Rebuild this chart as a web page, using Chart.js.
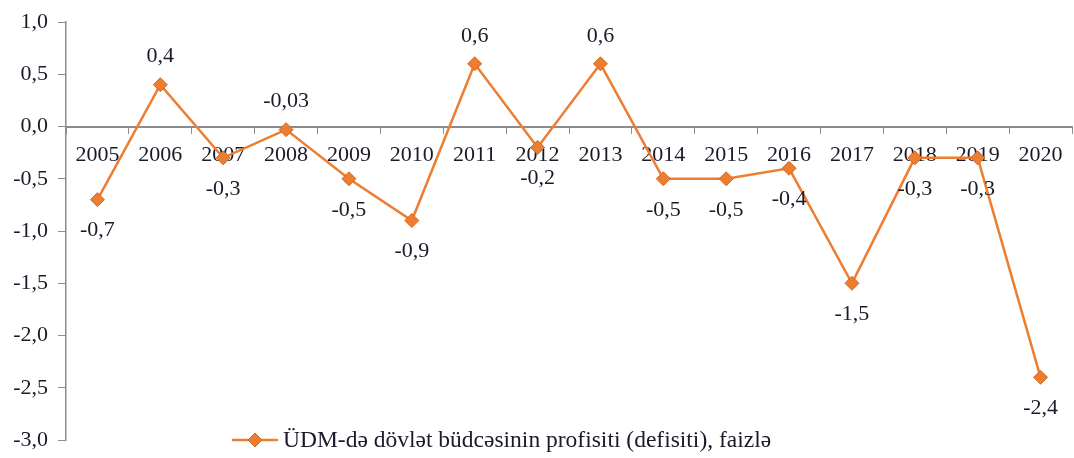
<!DOCTYPE html>
<html>
<head>
<meta charset="utf-8">
<script src="https://cdn.jsdelivr.net/npm/chart.js@4.4.0/dist/chart.umd.min.js"></script>
<style>
  html, body { margin: 0; padding: 0; background: #fff; }
  #wrap { width: 1074px; height: 458px; position: relative; }
</style>
</head>
<body>
<div id="wrap"><canvas id="budget-chart"></canvas></div>
<script>
// Data
const years = ['2005', '2006', '2007', '2008', '2009', '2010', '2011', '2012',
  '2013', '2014', '2015', '2016', '2017', '2018', '2019', '2020'];
const balance = [-0.7, 0.4, -0.3, -0.03, -0.5, -0.9, 0.6, -0.2,
  0.6, -0.5, -0.5, -0.4, -1.5, -0.3, -0.3, -2.4];
const seriesLabel = 'ÜDM-də dövlət büdcəsinin profisiti (defisiti), faizlə';
const yMin = -3;
const yMax = 1;
const yStep = 0.5;

const orange = '#ED7D31';
const orangeDark = '#D4681F';
const axisGray = '#8C8C8C';
const textColor = '#1A1A28';
const serif = "'Liberation Serif', 'Times New Roman', serif";
const fontSize = 22;

const fmt = (v, digits) => v.toFixed(digits).replace('.', ',');

// Value labels next to each point
const valueLabels = {
  id: 'valueLabels',
  afterDatasetsDraw(chart) {
    const { ctx } = chart;
    const meta = chart.getDatasetMeta(0);
    ctx.save();
    ctx.font = fontSize + 'px ' + serif;
    ctx.fillStyle = textColor;
    ctx.textAlign = 'center';
    ctx.textBaseline = 'middle';
    meta.data.forEach((pt, i) => {
      const v = balance[i];
      const digits = Math.abs(v * 10 - Math.round(v * 10)) > 1e-6 ? 2 : 1;
      const above = v > -0.1;
      ctx.fillText(fmt(v, digits), pt.x, above ? pt.y - 28 : pt.y + 31);
    });
    ctx.restore();
  },
};

// Legend drawn on the canvas, at the bottom
const bottomLegend = {
  id: 'bottomLegend',
  afterDraw(chart) {
    const { ctx } = chart;
    const y = 440;
    ctx.save();
    ctx.strokeStyle = orange;
    ctx.lineWidth = 2.5;
    ctx.beginPath();
    ctx.moveTo(232, y);
    ctx.lineTo(278, y);
    ctx.stroke();
    ctx.fillStyle = orange;
    ctx.strokeStyle = orangeDark;
    ctx.lineWidth = 1;
    ctx.beginPath();
    ctx.moveTo(255, y - 7);
    ctx.lineTo(262, y);
    ctx.lineTo(255, y + 7);
    ctx.lineTo(248, y);
    ctx.closePath();
    ctx.fill();
    ctx.stroke();
    ctx.font = '23.5px ' + serif;
    ctx.fillStyle = textColor;
    ctx.textAlign = 'left';
    ctx.textBaseline = 'middle';
    ctx.fillText(seriesLabel, 283, y + 1);
    ctx.restore();
  },
};

const ctx = document.getElementById('budget-chart');
// eslint-disable-next-line no-unused-vars
const chart = new Chart(ctx, {
  type: 'line',
  data: {
    labels: years,
    datasets: [{
      label: seriesLabel,
      data: balance,
      borderColor: orange,
      backgroundColor: orange,
      borderWidth: 2.5,
      pointStyle: 'rectRot',
      pointRadius: 7,
      pointBackgroundColor: orange,
      pointBorderColor: orangeDark,
      pointBorderWidth: 1,
      tension: 0,
      clip: false,
    }],
  },
  options: {
    responsive: true,
    maintainAspectRatio: false,
    animation: false,
    layout: {
      autoPadding: false,
      padding: { top: 22, bottom: 18, left: 0, right: 2 },
    },
    scales: {
      y: {
        min: yMin,
        max: yMax,
        afterFit: (s) => {
          s.width = 66;
          s.paddingTop = 0;
          s.paddingBottom = 0;
        },
        border: { color: axisGray, width: 1.5 },
        grid: {
          drawOnChartArea: false,
          color: axisGray,
          tickLength: 8,
        },
        ticks: {
          stepSize: yStep,
          padding: 10,
          color: textColor,
          font: { family: serif, size: fontSize },
          callback: (value) => fmt(value, 1),
        },
      },
      x: {
        position: { y: 0 },
        offset: true,
        afterFit: (s) => {
          s.paddingLeft = 0;
          s.paddingRight = 0;
        },
        border: { color: axisGray, width: 2 },
        grid: {
          offset: true,
          drawOnChartArea: false,
          color: axisGray,
          tickLength: 6,
        },
        ticks: {
          maxRotation: 0,
          autoSkip: false,
          padding: 10,
          color: textColor,
          font: { family: serif, size: fontSize },
        },
      },
    },
    plugins: {
      legend: { display: false },
      tooltip: { enabled: false },
    },
  },
  plugins: [valueLabels, bottomLegend],
});
</script>
</body>
</html>
